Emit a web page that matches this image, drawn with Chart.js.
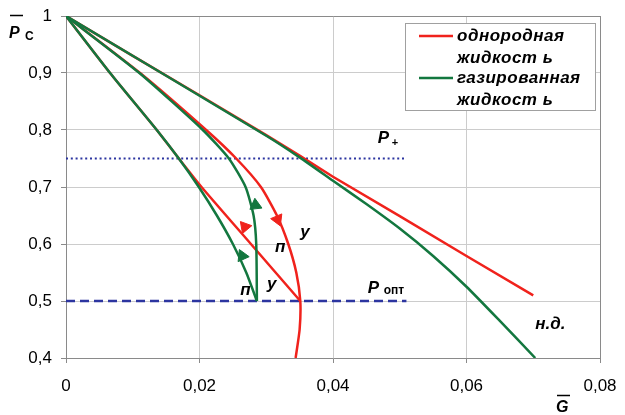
<!DOCTYPE html>
<html>
<head>
<meta charset="utf-8">
<script src="https://cdn.jsdelivr.net/npm/chart.js@4.4.0/dist/chart.umd.min.js"></script>
<style>
  html, body { margin: 0; padding: 0; background: #fff; }
  #wrap { width: 625px; height: 415px; position: relative; }
</style>
</head>
<body>
<div id="wrap"><canvas id="chart"></canvas></div>
<script>
// Data (G on x, P on y)
const xTicks = [0, 0.02, 0.04, 0.06, 0.08];
const yTicks = [0.4, 0.5, 0.6, 0.7, 0.8, 0.9, 1];

// homogeneous liquid (red)
const redOuterG = [0, 0.01, 0.02, 0.03, 0.035, 0.04, 0.05, 0.06, 0.07];
const redOuterP = [1, 0.93, 0.861, 0.791, 0.755, 0.718, 0.649, 0.579, 0.51];
const redMidG = [0, 0.0111, 0.021, 0.0255, 0.0292, 0.0316, 0.0333, 0.0345, 0.0351, 0.035, 0.0344];
const redMidP = [1, 0.9, 0.8, 0.75, 0.7, 0.65, 0.6, 0.55, 0.5, 0.45, 0.4];
const redInnerG = [0, 0.0066, 0.0136, 0.0169, 0.0203, 0.0277, 0.0351];
const redInnerP = [1, 0.9, 0.8, 0.75, 0.7, 0.6, 0.5];

// gassed liquid (green)
const greenOuterG = [0, 0.03, 0.035, 0.04, 0.045, 0.05, 0.055, 0.06, 0.065, 0.0703];
const greenOuterP = [1, 0.79, 0.752, 0.711, 0.67, 0.627, 0.579, 0.525, 0.465, 0.4];
const greenMidG = [0, 0.011, 0.0205, 0.0244, 0.0269, 0.0281, 0.0285, 0.0286];
const greenMidP = [1, 0.9, 0.8, 0.75, 0.7, 0.65, 0.6, 0.5];
const greenInnerG = [0, 0.0066, 0.0136, 0.0169, 0.0199, 0.0226, 0.025, 0.027, 0.0286];
const greenInnerP = [1, 0.9, 0.8, 0.75, 0.7, 0.65, 0.6, 0.55, 0.5];

// reference levels
const plusLineG = [0, 0.051];
const plusLineP = [0.75, 0.75];
const optLineG = [0, 0.051];
const optLineP = [0.5, 0.5];

// arrowheads on the working paths
const redArrowG = [0.0317, 0.0268];
const redArrowP = [0.643, 0.630];
const greenArrowG = [0.0284, 0.0264];
const greenArrowP = [0.668, 0.579];

// curve labels
const noteText = ['у', 'п', 'у', 'п', 'н.д.'];
const noteG = [0.0351, 0.0313, 0.0301, 0.0261, 0.0703];
const noteP = [0.612, 0.586, 0.521, 0.5105, 0.451];

const legendNames = [['однородная', 'жидкост ь'], ['газированная', 'жидкост ь']];

const RED = '#f0221c';
const GREEN = '#13773f';
const BLUE = '#2c35a0';
const FONT = '"Liberation Sans", Arial, sans-serif';

const pts = (g, p) => g.map((v, i) => ({ x: v, y: p[i] }));

function curve(g, p, color, order, tension) {
    return {
        data: pts(g, p),
        showLine: true,
        borderColor: color,
        borderWidth: 2.5,
        pointRadius: 0,
        tension: tension,
        order: order
    };
}

function arrows(g, p, color, rotation) {
    return {
        data: pts(g, p),
        showLine: false,
        pointStyle: 'triangle',
        pointRadius: 7,
        rotation: rotation,
        backgroundColor: color,
        borderColor: color,
        borderWidth: 1,
        order: 0
    };
}

// labels, axis titles and legend drawn on top
const textPlugin = {
    id: 'texts',
    afterDraw(chart) {
        const ctx = chart.ctx;
        const xs = chart.scales.x, ys = chart.scales.y;
        ctx.save();
        ctx.fillStyle = '#000';
        ctx.strokeStyle = '#000';
        ctx.textBaseline = 'alphabetic';
        ctx.textAlign = 'left';

        // curve notes
        ctx.font = 'bold italic 17px ' + FONT;
        noteText.forEach((t, i) => {
            ctx.fillText(t, xs.getPixelForValue(noteG[i]), ys.getPixelForValue(noteP[i]));
        });

        // P+ and Popt
        const px = xs.getPixelForValue(0.0467), py = ys.getPixelForValue(0.777);
        ctx.font = 'bold italic 17px ' + FONT;
        ctx.fillText('P', px, py);
        ctx.font = 'bold 11px ' + FONT;
        ctx.fillText('+', px + 14, py + 3);
        const ox = xs.getPixelForValue(0.0452), oy = ys.getPixelForValue(0.514);
        ctx.font = 'bold italic 17px ' + FONT;
        ctx.fillText('P', ox, oy);
        ctx.font = 'bold 12px ' + FONT;
        ctx.fillText('опт', ox + 16, oy + 1);

        // axis titles with overline
        ctx.font = 'bold italic 16px ' + FONT;
        ctx.fillText('P', 9, 38);
        ctx.font = 'bold 12px ' + FONT;
        ctx.fillText('С', 25, 40);
        ctx.font = 'bold italic 16px ' + FONT;
        ctx.fillText('G', 556, 412);
        ctx.lineWidth = 1.5;
        ctx.beginPath();
        ctx.moveTo(10, 15.5); ctx.lineTo(23, 15.5);
        ctx.moveTo(557, 395.5); ctx.lineTo(570, 395.5);
        ctx.stroke();

        // legend box
        ctx.fillStyle = '#fff';
        ctx.fillRect(405, 23, 190, 87);
        ctx.strokeStyle = '#a0a0a0';
        ctx.lineWidth = 1;
        ctx.strokeRect(405.5, 23.5, 190, 87);
        [RED, GREEN].forEach((c, i) => {
            const y = 36 + i * 42;
            ctx.strokeStyle = c;
            ctx.lineWidth = 2.5;
            ctx.beginPath();
            ctx.moveTo(419, y); ctx.lineTo(453, y);
            ctx.stroke();
            ctx.fillStyle = '#000';
            ctx.font = 'bold italic 17px ' + FONT;
            ctx.letterSpacing = '0.5px';
            ctx.textBaseline = 'middle';
            ctx.fillText(legendNames[i][0], 457, y);
            ctx.fillText(legendNames[i][1], 457, y + 22);
        });
        ctx.restore();
    }
};

const edgeColor = (max) => (c) => (c.tick && Math.abs(c.tick.value - max) < 1e-9) ? '#8a8a8a' : '#cccccc';

new Chart(document.getElementById('chart'), {
    type: 'scatter',
    data: {
        datasets: [
            curve(greenOuterG, greenOuterP, GREEN, 1, 0.2),
            curve(greenMidG, greenMidP, GREEN, 1, 0.2),
            curve(greenInnerG, greenInnerP, GREEN, 1, 0.2),
            curve(redOuterG, redOuterP, RED, 2, 0),
            curve(redMidG, redMidP, RED, 2, 0.2),
            curve(redInnerG, redInnerP, RED, 2, 0.2),
            {
                data: pts(plusLineG, plusLineP), showLine: true, borderColor: BLUE,
                borderWidth: 2, borderDash: [2, 2.8], pointRadius: 0, order: 3
            },
            {
                data: pts(optLineG, optLineP), showLine: true, borderColor: BLUE,
                borderWidth: 2.5, borderDash: [9, 5], pointRadius: 0, order: 3
            },
            arrows(redArrowG, redArrowP, RED, [157, -40]),
            arrows(greenArrowG, greenArrowP, GREEN, [-6, -24])
        ]
    },
    options: {
        responsive: true,
        maintainAspectRatio: false,
        animation: false,
        layout: { padding: { top: 16, right: 25, left: 0, bottom: 0 } },
        plugins: {
            legend: { display: false },
            tooltip: { enabled: false }
        },
        scales: {
            x: {
                type: 'linear',
                min: 0,
                max: 0.08,
                afterFit: (s) => { s.height = 57; s.paddingLeft = 0; s.paddingRight = 0; },
                afterBuildTicks: (s) => { s.ticks = xTicks.map(v => ({ value: v })); },
                ticks: {
                    color: '#000',
                    font: { family: FONT, size: 17 },
                    padding: 13,
                    maxRotation: 0,
                    callback: (v) => v === 0 ? '0' : v.toFixed(2).replace('.', ',')
                },
                grid: { color: edgeColor(0.08), tickColor: '#8a8a8a', tickLength: 5 },
                border: { color: '#8a8a8a' }
            },
            y: {
                type: 'linear',
                min: 0.4,
                max: 1,
                afterFit: (s) => { s.width = 66; s.paddingTop = 0; s.paddingBottom = 0; },
                afterBuildTicks: (s) => { s.ticks = yTicks.map(v => ({ value: v })); },
                ticks: {
                    color: '#000',
                    font: { family: FONT, size: 17 },
                    padding: 9,
                    callback: (v) => v === 1 ? '1' : v.toFixed(1).replace('.', ',')
                },
                grid: { color: edgeColor(1), tickColor: '#8a8a8a', tickLength: 5 },
                border: { color: '#8a8a8a' }
            }
        }
    },
    plugins: [textPlugin]
});
</script>
</body>
</html>
